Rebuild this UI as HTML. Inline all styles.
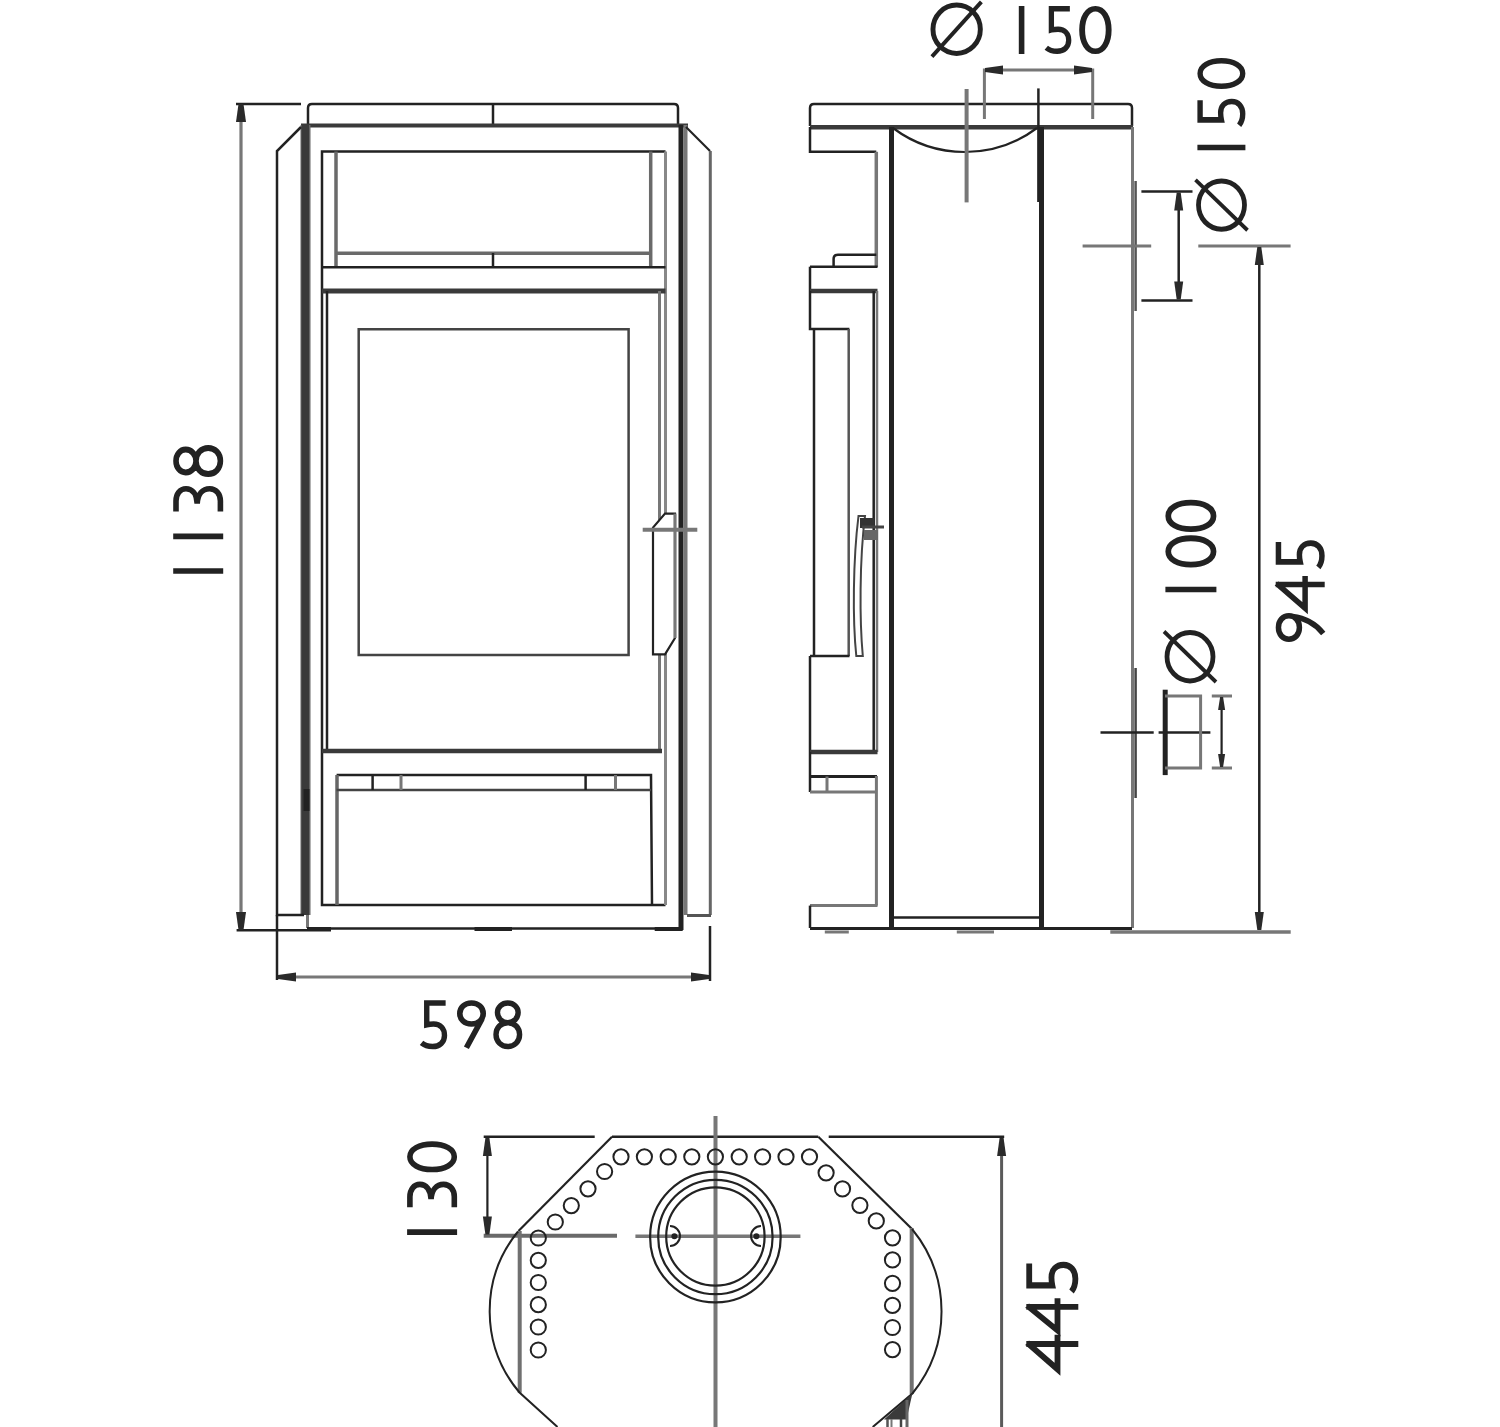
<!DOCTYPE html>
<html><head><meta charset="utf-8"><title>Stove dimensions</title>
<style>
html,body{margin:0;padding:0;background:#fff;}
body{width:1500px;height:1427px;overflow:hidden;font-family:"Liberation Sans",sans-serif;}
svg{display:block;}
</style></head>
<body>
<svg width="1500" height="1427" viewBox="0 0 1500 1427">
<rect width="1500" height="1427" fill="#fff"/>
<line x1="241" y1="106" x2="241" y2="927" stroke="#777" stroke-width="3.2" stroke-linecap="butt"/>
<line x1="236" y1="104" x2="301" y2="104" stroke="#222" stroke-width="2.5" stroke-linecap="butt"/>
<line x1="236.6" y1="930.3" x2="331" y2="930.3" stroke="#222" stroke-width="2.5" stroke-linecap="butt"/>
<polygon points="238.5,104 243.5,104 246.0,122 236.0,122" fill="#2a2a2a"/>
<polygon points="238.5,930 243.5,930 246.0,912 236.0,912" fill="#2a2a2a"/>
<path d="M308,125 V108 Q308,104 312,104 H674 Q678,104 678,108 V125" stroke="#222" stroke-width="2.5" fill="none" stroke-linejoin="miter"/>
<line x1="493" y1="104" x2="493" y2="125" stroke="#222" stroke-width="2.5" stroke-linecap="butt"/>
<line x1="301" y1="125.5" x2="688" y2="125.5" stroke="#3a3a3a" stroke-width="4" stroke-linecap="butt"/>
<rect x="300.5" y="125" width="10" height="790" fill="#666"/>
<rect x="301.5" y="125" width="7.5" height="790" fill="#3a3a3a"/>
<line x1="307.5" y1="915" x2="307.5" y2="928" stroke="#777" stroke-width="3" stroke-linecap="butt"/>
<rect x="303.5" y="789" width="6" height="22" fill="#222"/>
<rect x="678.5" y="125" width="5" height="805" fill="#222"/>
<rect x="683.5" y="125" width="4" height="790" fill="#777"/>
<path d="M301,127 L277,151 V915 H304" stroke="#222" stroke-width="2.5" fill="none" stroke-linejoin="miter"/>
<path d="M686,127 L710,151" stroke="#222" stroke-width="2.2" fill="none" stroke-linejoin="miter"/>
<line x1="710.3" y1="151" x2="710.3" y2="915" stroke="#666" stroke-width="3" stroke-linecap="butt"/>
<line x1="687" y1="915.5" x2="711" y2="915.5" stroke="#555" stroke-width="3" stroke-linecap="butt"/>
<path d="M665.5,151.5 H322 V905 H665.5" stroke="#222" stroke-width="2.5" fill="none" stroke-linejoin="miter"/>
<line x1="665.5" y1="151.5" x2="665.5" y2="905" stroke="#888" stroke-width="3" stroke-linecap="butt"/>
<line x1="336" y1="151.5" x2="336" y2="267" stroke="#6a6a6a" stroke-width="3.5" stroke-linecap="butt"/>
<line x1="650.7" y1="151.5" x2="650.7" y2="267" stroke="#6a6a6a" stroke-width="3.5" stroke-linecap="butt"/>
<line x1="336" y1="253.2" x2="650.7" y2="253.2" stroke="#6a6a6a" stroke-width="3.5" stroke-linecap="butt"/>
<line x1="322" y1="267.3" x2="665.5" y2="267.3" stroke="#222" stroke-width="2.5" stroke-linecap="butt"/>
<line x1="493" y1="253" x2="493" y2="267" stroke="#222" stroke-width="2.5" stroke-linecap="butt"/>
<line x1="322" y1="291" x2="665.5" y2="291" stroke="#3a3a3a" stroke-width="5" stroke-linecap="butt"/>
<line x1="327" y1="291" x2="327" y2="751" stroke="#222" stroke-width="2.5" stroke-linecap="butt"/>
<line x1="659.5" y1="291" x2="659.5" y2="751" stroke="#777" stroke-width="3" stroke-linecap="butt"/>
<line x1="322" y1="751" x2="662" y2="751" stroke="#3a3a3a" stroke-width="4.5" stroke-linecap="butt"/>
<path d="M358.7,655.1 V329.3 H628.6 V655.1 Z" stroke="#444" stroke-width="2.5" fill="none" stroke-linejoin="miter"/>
<path d="M665,513.6 H675 V638 L665,654.4 H653 V527.6 Z" fill="#fff" stroke="none"/>
<path d="M665,513.6 H675 V638 L665,654.4 H653 V527.6 Z" stroke="#222" stroke-width="2.2" fill="none" stroke-linejoin="miter"/>
<line x1="675" y1="513.6" x2="675" y2="638" stroke="#777" stroke-width="3" stroke-linecap="butt"/>
<line x1="642.7" y1="529.7" x2="697.3" y2="529.7" stroke="#777" stroke-width="4" stroke-linecap="butt"/>
<path d="M336.6,775 H651 L652,905" stroke="#222" stroke-width="2.5" fill="none" stroke-linejoin="miter"/>
<line x1="337" y1="775" x2="337" y2="905" stroke="#666" stroke-width="3.5" stroke-linecap="butt"/>
<line x1="336.6" y1="790" x2="651" y2="790" stroke="#444" stroke-width="2.5" stroke-linecap="butt"/>
<line x1="372.6" y1="775" x2="372.6" y2="790" stroke="#222" stroke-width="2.5" stroke-linecap="butt"/>
<line x1="401" y1="775" x2="401" y2="790" stroke="#777" stroke-width="3" stroke-linecap="butt"/>
<line x1="585.6" y1="775" x2="585.6" y2="790" stroke="#222" stroke-width="2.5" stroke-linecap="butt"/>
<line x1="615.5" y1="775" x2="615.5" y2="790" stroke="#777" stroke-width="3" stroke-linecap="butt"/>
<line x1="307" y1="928.5" x2="683" y2="928.5" stroke="#222" stroke-width="2.5" stroke-linecap="butt"/>
<rect x="307" y="927" width="24" height="4" fill="#222"/>
<rect x="474.5" y="927" width="37.5" height="4" fill="#222"/>
<rect x="654.7" y="927" width="28" height="4" fill="#222"/>
<line x1="278" y1="977" x2="709" y2="977" stroke="#777" stroke-width="3" stroke-linecap="butt"/>
<line x1="277" y1="915" x2="277" y2="980" stroke="#222" stroke-width="2.5" stroke-linecap="butt"/>
<line x1="710" y1="926" x2="710" y2="981" stroke="#222" stroke-width="2.5" stroke-linecap="butt"/>
<polygon points="278,975.0 278,979.0 296,981.5 296,972.5" fill="#2a2a2a"/>
<polygon points="709,975.0 709,979.0 691,981.5 691,972.5" fill="#2a2a2a"/>
<path transform="translate(173.2,574.5) rotate(-90) scale(1.0,1.0)" d="M3.5,0 V50" stroke="#222" stroke-width="5.6" fill="none" stroke-linecap="butt"/>
<path transform="translate(173.2,539.9) rotate(-90) scale(1.0,1.0)" d="M3.5,0 V50" stroke="#222" stroke-width="5.6" fill="none" stroke-linecap="butt"/>
<path transform="translate(173.2,512.5) rotate(-90) scale(1.0,1.0)" d="M1,2.8 H11.5 C18.5,2.8 23.8,6.8 23.8,12.8 C23.8,19 18.5,23.5 9,24 C18.5,24.5 23.8,29.5 23.8,36.5 C23.8,43 18.5,47.2 11.5,47.2 H1" stroke="#222" stroke-width="5.6" fill="none" stroke-linecap="butt"/>
<path transform="translate(173.2,477.0) rotate(-90) scale(1.0666666666666667,1.0)" d="M15,2.8 C9,2.8 4.3,6.8 4.3,12.5 C4.3,18.2 9,22.8 15,22.8 C21,22.8 25.7,18.2 25.7,12.5 C25.7,6.8 21,2.8 15,2.8 Z M15,22.8 C8,22.8 2.8,28 2.8,35 C2.8,42 8,47.2 15,47.2 C22,47.2 27.2,42 27.2,35 C27.2,28 22,22.8 15,22.8 Z" stroke="#222" stroke-width="5.6" fill="none" stroke-linecap="butt"/>
<path transform="translate(419.6,1000.3) scale(0.9642857142857143,0.98)" d="M27,2.8 H7.4 V25 C10,24.4 12.5,24.2 14.5,24.2 C21.5,24.2 25.8,29 25.8,35.8 C25.8,42.5 21,47.2 13.5,47.2 C9,47.2 5,46 2,43.5" stroke="#222" stroke-width="5.6" fill="none" stroke-linecap="butt"/>
<path transform="translate(457.0,1000.3) scale(1.0,0.98)" d="M14.5,2.8 C7.5,2.8 2.8,7.5 2.8,13.5 C2.8,19.5 7.5,24.2 14.5,24.2 C21.5,24.2 26.2,19.5 26.2,13.5 C26.2,7.5 21.5,2.8 14.5,2.8 Z M25,19 L9.4,48.5" stroke="#222" stroke-width="5.6" fill="none" stroke-linecap="butt"/>
<path transform="translate(493.3,1000.3) scale(0.9666666666666667,0.98)" d="M15,2.8 C9,2.8 4.3,6.8 4.3,12.5 C4.3,18.2 9,22.8 15,22.8 C21,22.8 25.7,18.2 25.7,12.5 C25.7,6.8 21,2.8 15,2.8 Z M15,22.8 C8,22.8 2.8,28 2.8,35 C2.8,42 8,47.2 15,47.2 C22,47.2 27.2,42 27.2,35 C27.2,28 22,22.8 15,22.8 Z" stroke="#222" stroke-width="5.6" fill="none" stroke-linecap="butt"/>
<path d="M810,126 V108 Q810,104 814,104 H1128 Q1132,104 1132,108 V126" stroke="#222" stroke-width="2.5" fill="none" stroke-linejoin="miter"/>
<line x1="810" y1="127.3" x2="1133" y2="127.3" stroke="#3a3a3a" stroke-width="4.5" stroke-linecap="butt"/>
<path d="M810,127 V151.8 H876.3" stroke="#222" stroke-width="2.5" fill="none" stroke-linejoin="miter"/>
<line x1="876.3" y1="151.8" x2="876.3" y2="267" stroke="#777" stroke-width="3.5" stroke-linecap="butt"/>
<path d="M876.3,254.8 H838 Q833.6,254.8 833.6,259 V266.7" stroke="#222" stroke-width="2.5" fill="none" stroke-linejoin="miter"/>
<line x1="810" y1="266.7" x2="877.5" y2="266.7" stroke="#222" stroke-width="2.5" stroke-linecap="butt"/>
<line x1="810" y1="266.7" x2="810" y2="291" stroke="#222" stroke-width="2.5" stroke-linecap="butt"/>
<line x1="810" y1="291" x2="877.5" y2="291" stroke="#3a3a3a" stroke-width="4.5" stroke-linecap="butt"/>
<path d="M810,291 V329 H849.4" stroke="#222" stroke-width="2.5" fill="none" stroke-linejoin="miter"/>
<line x1="814" y1="329" x2="814" y2="656" stroke="#222" stroke-width="2.5" stroke-linecap="butt"/>
<line x1="848.7" y1="329" x2="848.7" y2="656" stroke="#555" stroke-width="2.5" stroke-linecap="butt"/>
<line x1="810" y1="656" x2="849.5" y2="656" stroke="#222" stroke-width="2.5" stroke-linecap="butt"/>
<line x1="810" y1="656" x2="810" y2="752" stroke="#222" stroke-width="2.5" stroke-linecap="butt"/>
<line x1="873.7" y1="291" x2="873.7" y2="752" stroke="#222" stroke-width="2.5" stroke-linecap="butt"/>
<line x1="877" y1="291" x2="877" y2="752" stroke="#777" stroke-width="2.5" stroke-linecap="butt"/>
<line x1="810" y1="752" x2="877.5" y2="752" stroke="#3a3a3a" stroke-width="4.5" stroke-linecap="butt"/>
<line x1="810" y1="752" x2="810" y2="792" stroke="#222" stroke-width="2.5" stroke-linecap="butt"/>
<line x1="810" y1="776.5" x2="877" y2="776.5" stroke="#222" stroke-width="3" stroke-linecap="butt"/>
<line x1="810" y1="792" x2="877" y2="792" stroke="#777" stroke-width="3" stroke-linecap="butt"/>
<line x1="827" y1="776.5" x2="827" y2="792" stroke="#777" stroke-width="3" stroke-linecap="butt"/>
<line x1="876.4" y1="776" x2="876.4" y2="905.6" stroke="#777" stroke-width="3" stroke-linecap="butt"/>
<line x1="810" y1="905.6" x2="877.5" y2="905.6" stroke="#777" stroke-width="3" stroke-linecap="butt"/>
<line x1="810" y1="905.6" x2="810" y2="928" stroke="#222" stroke-width="2.5" stroke-linecap="butt"/>
<path d="M858.5,516 C853,560 852.5,620 856.3,656 H862.8 C859.5,620 859.5,560 865,516 Z" stroke="#444" stroke-width="2" fill="none" stroke-linejoin="miter"/>
<rect x="860" y="518" width="14" height="10" fill="#333"/>
<line x1="862" y1="527" x2="884" y2="527" stroke="#444" stroke-width="3" stroke-linecap="butt"/>
<rect x="864" y="530" width="14" height="10" fill="#666"/>
<rect x="889" y="127" width="5" height="801" fill="#222"/>
<rect x="1039" y="127" width="5" height="801" fill="#222"/>
<line x1="1132.5" y1="127" x2="1132.5" y2="928" stroke="#777" stroke-width="3" stroke-linecap="butt"/>
<line x1="1135.6" y1="181" x2="1135.6" y2="311" stroke="#555" stroke-width="2.5" stroke-linecap="butt"/>
<line x1="1135.6" y1="668" x2="1135.6" y2="798" stroke="#444" stroke-width="2.5" stroke-linecap="butt"/>
<path d="M893,128 A120,120 0 0 0 1037,128" stroke="#222" stroke-width="2.2" fill="none" stroke-linejoin="miter"/>
<line x1="966.6" y1="89" x2="966.6" y2="202.4" stroke="#777" stroke-width="4" stroke-linecap="butt"/>
<line x1="1038.4" y1="88.4" x2="1038.4" y2="202" stroke="#222" stroke-width="2.5" stroke-linecap="butt"/>
<line x1="893" y1="917.6" x2="1042" y2="917.6" stroke="#222" stroke-width="2.5" stroke-linecap="butt"/>
<line x1="810" y1="928.5" x2="1132" y2="928.5" stroke="#222" stroke-width="3" stroke-linecap="butt"/>
<line x1="824.8" y1="932" x2="848.8" y2="932" stroke="#777" stroke-width="3" stroke-linecap="butt"/>
<line x1="956.8" y1="932" x2="994" y2="932" stroke="#777" stroke-width="3" stroke-linecap="butt"/>
<line x1="1110.3" y1="932" x2="1290.7" y2="932" stroke="#777" stroke-width="3.5" stroke-linecap="butt"/>
<line x1="984.4" y1="68.5" x2="984.4" y2="119" stroke="#777" stroke-width="3" stroke-linecap="butt"/>
<line x1="1092.7" y1="68.5" x2="1092.7" y2="119" stroke="#777" stroke-width="3" stroke-linecap="butt"/>
<line x1="985" y1="70" x2="1092" y2="70" stroke="#777" stroke-width="3" stroke-linecap="butt"/>
<polygon points="985,68.0 985,72.0 1003,74.5 1003,65.5" fill="#2a2a2a"/>
<polygon points="1092,68.0 1092,72.0 1074,74.5 1074,65.5" fill="#2a2a2a"/>
<g transform="translate(930.9,3.0) scale(1.03,1.05)" fill="none" stroke="#222"><ellipse cx="25" cy="25" rx="23" ry="23" stroke-width="4.8"/><path d="M1,51 L49,-1" stroke-width="3.8"/></g>
<path transform="translate(1018.1,6) scale(1.0,0.96)" d="M3.5,0 V50" stroke="#222" stroke-width="5.6" fill="none" stroke-linecap="butt"/>
<path transform="translate(1044.4,6) scale(0.9428571428571428,0.96)" d="M27,2.8 H7.4 V25 C10,24.4 12.5,24.2 14.5,24.2 C21.5,24.2 25.8,29 25.8,35.8 C25.8,42.5 21,47.2 13.5,47.2 C9,47.2 5,46 2,43.5" stroke="#222" stroke-width="5.6" fill="none" stroke-linecap="butt"/>
<path transform="translate(1079.2,6) scale(1.0451612903225806,0.96)" d="M15.5,2.8 C8,2.8 2.8,12 2.8,25 C2.8,38 8,47.2 15.5,47.2 C23,47.2 28.2,38 28.2,25 C28.2,12 23,2.8 15.5,2.8 Z" stroke="#222" stroke-width="5.6" fill="none" stroke-linecap="butt"/>
<line x1="1082.6" y1="246" x2="1151.2" y2="246" stroke="#777" stroke-width="3" stroke-linecap="butt"/>
<line x1="1198.3" y1="246" x2="1290.6" y2="246" stroke="#777" stroke-width="3" stroke-linecap="butt"/>
<line x1="1141.4" y1="191.5" x2="1192.5" y2="191.5" stroke="#222" stroke-width="2.5" stroke-linecap="butt"/>
<line x1="1141.4" y1="300.6" x2="1192.5" y2="300.6" stroke="#222" stroke-width="2.5" stroke-linecap="butt"/>
<line x1="1178.7" y1="193" x2="1178.7" y2="299" stroke="#222" stroke-width="2.5" stroke-linecap="butt"/>
<polygon points="1176.7,192.5 1180.7,192.5 1183.2,210.5 1174.2,210.5" fill="#2a2a2a"/>
<polygon points="1176.7,299.5 1180.7,299.5 1183.2,281.5 1174.2,281.5" fill="#2a2a2a"/>
<g transform="translate(1196.5,231.3) rotate(-90) scale(1.05,1.0)" fill="none" stroke="#222"><ellipse cx="25" cy="25" rx="23" ry="23" stroke-width="4.8"/><path d="M1,51 L49,-1" stroke-width="3.8"/></g>
<path transform="translate(1197.4,151.0) rotate(-90) scale(1.0,0.96)" d="M3.5,0 V50" stroke="#222" stroke-width="5.6" fill="none" stroke-linecap="butt"/>
<path transform="translate(1197.4,127.3) rotate(-90) scale(1.0,0.96)" d="M27,2.8 H7.4 V25 C10,24.4 12.5,24.2 14.5,24.2 C21.5,24.2 25.8,29 25.8,35.8 C25.8,42.5 21,47.2 13.5,47.2 C9,47.2 5,46 2,43.5" stroke="#222" stroke-width="5.6" fill="none" stroke-linecap="butt"/>
<path transform="translate(1197.4,89.0) rotate(-90) scale(1.0,0.96)" d="M15.5,2.8 C8,2.8 2.8,12 2.8,25 C2.8,38 8,47.2 15.5,47.2 C23,47.2 28.2,38 28.2,25 C28.2,12 23,2.8 15.5,2.8 Z" stroke="#222" stroke-width="5.6" fill="none" stroke-linecap="butt"/>
<line x1="1259.3" y1="248" x2="1259.3" y2="928" stroke="#222" stroke-width="2.5" stroke-linecap="butt"/>
<polygon points="1257.3,247 1261.3,247 1263.8,265 1254.8,265" fill="#2a2a2a"/>
<polygon points="1257.3,930 1261.3,930 1263.8,912 1254.8,912" fill="#2a2a2a"/>
<path transform="translate(1275.7,569.4) rotate(-90) scale(1.0178571428571428,0.98)" d="M27,2.8 H7.4 V25 C10,24.4 12.5,24.2 14.5,24.2 C21.5,24.2 25.8,29 25.8,35.8 C25.8,42.5 21,47.2 13.5,47.2 C9,47.2 5,46 2,43.5" stroke="#222" stroke-width="5.6" fill="none" stroke-linecap="butt"/>
<path transform="translate(1275.7,610.3) rotate(-90) scale(1.0,0.98)" d="M25.8,0 V50 M27,0.8 L2.2,30 H34.4" stroke="#222" stroke-width="5.6" fill="none" stroke-linecap="butt"/>
<path transform="translate(1275.7,642.0) rotate(-90) scale(1.0,0.98)" d="M14.5,2.8 C7.5,2.8 2.8,7.5 2.8,13.5 C2.8,19.5 7.5,24.2 14.5,24.2 C21.5,24.2 26.2,19.5 26.2,13.5 C26.2,7.5 21.5,2.8 14.5,2.8 Z M25.5,17 C24,30 18,41 8.5,48.5" stroke="#222" stroke-width="5.6" fill="none" stroke-linecap="butt"/>
<line x1="1100.5" y1="732.4" x2="1153.7" y2="732.4" stroke="#222" stroke-width="2.5" stroke-linecap="butt"/>
<line x1="1158.6" y1="732.4" x2="1210.4" y2="732.4" stroke="#222" stroke-width="2.5" stroke-linecap="butt"/>
<line x1="1165.2" y1="689.7" x2="1165.2" y2="775.1" stroke="#222" stroke-width="5" stroke-linecap="butt"/>
<path d="M1165,696 H1200.6 V768 H1165" stroke="#777" stroke-width="3" fill="none" stroke-linejoin="miter"/>
<line x1="1211.8" y1="696" x2="1232" y2="696" stroke="#777" stroke-width="3" stroke-linecap="butt"/>
<line x1="1211.8" y1="768" x2="1232" y2="768" stroke="#777" stroke-width="3" stroke-linecap="butt"/>
<line x1="1221.6" y1="697" x2="1221.6" y2="767" stroke="#222" stroke-width="2.2" stroke-linecap="butt"/>
<polygon points="1220.1,697 1223.1,697 1225.1,710 1218.1,710" fill="#2a2a2a"/>
<polygon points="1220.1,767 1223.1,767 1225.1,754 1218.1,754" fill="#2a2a2a"/>
<g transform="translate(1165.0,683.0) rotate(-90) scale(1.05,1.0)" fill="none" stroke="#222"><ellipse cx="25" cy="25" rx="23" ry="23" stroke-width="4.8"/><path d="M1,51 L49,-1" stroke-width="3.8"/></g>
<path transform="translate(1165.4,593.0) rotate(-90) scale(1.0,1.02)" d="M3.5,0 V50" stroke="#222" stroke-width="5.6" fill="none" stroke-linecap="butt"/>
<path transform="translate(1165.4,567.6) rotate(-90) scale(1.04,1.02)" d="M15.5,2.8 C8,2.8 2.8,12 2.8,25 C2.8,38 8,47.2 15.5,47.2 C23,47.2 28.2,38 28.2,25 C28.2,12 23,2.8 15.5,2.8 Z" stroke="#222" stroke-width="5.6" fill="none" stroke-linecap="butt"/>
<path transform="translate(1165.4,532.0) rotate(-90) scale(1.04,1.02)" d="M15.5,2.8 C8,2.8 2.8,12 2.8,25 C2.8,38 8,47.2 15.5,47.2 C23,47.2 28.2,38 28.2,25 C28.2,12 23,2.8 15.5,2.8 Z" stroke="#222" stroke-width="5.6" fill="none" stroke-linecap="butt"/>
<line x1="483.7" y1="1136.7" x2="594.7" y2="1136.7" stroke="#222" stroke-width="2.5" stroke-linecap="butt"/>
<line x1="612" y1="1136.7" x2="818.3" y2="1136.7" stroke="#222" stroke-width="2.5" stroke-linecap="butt"/>
<line x1="828.7" y1="1136.7" x2="1004.2" y2="1136.7" stroke="#222" stroke-width="2.5" stroke-linecap="butt"/>
<line x1="612" y1="1136.7" x2="518.5" y2="1231" stroke="#222" stroke-width="2.2" stroke-linecap="butt"/>
<line x1="818.3" y1="1136.7" x2="912" y2="1229" stroke="#222" stroke-width="2.2" stroke-linecap="butt"/>
<line x1="483.7" y1="1235.7" x2="617" y2="1235.7" stroke="#6a6a6a" stroke-width="4" stroke-linecap="butt"/>
<line x1="635.4" y1="1236.2" x2="800.4" y2="1236.2" stroke="#777" stroke-width="3.5" stroke-linecap="butt"/>
<line x1="715.5" y1="1116" x2="715.5" y2="1427" stroke="#777" stroke-width="4" stroke-linecap="butt"/>
<line x1="487.4" y1="1139" x2="487.4" y2="1234" stroke="#222" stroke-width="2.2" stroke-linecap="butt"/>
<polygon points="485.4,1138 489.4,1138 491.9,1156 482.9,1156" fill="#2a2a2a"/>
<polygon points="485.4,1234.5 489.4,1234.5 491.9,1216.5 482.9,1216.5" fill="#2a2a2a"/>
<line x1="1001.6" y1="1139" x2="1001.6" y2="1427" stroke="#5a5a5a" stroke-width="3" stroke-linecap="butt"/>
<polygon points="999.6,1138 1003.6,1138 1006.1,1156 997.1,1156" fill="#2a2a2a"/>
<line x1="519.7" y1="1231" x2="519.7" y2="1392.7" stroke="#707070" stroke-width="4" stroke-linecap="butt"/>
<line x1="911.7" y1="1228" x2="911.7" y2="1394" stroke="#707070" stroke-width="4" stroke-linecap="butt"/>
<path d="M518,1231.5 A126,126 0 0 0 519.5,1392.5 L557.5,1427" stroke="#222" stroke-width="2" fill="none" stroke-linejoin="miter"/>
<path d="M912,1229 A130,130 0 0 1 912.4,1393.5 L872.7,1427" stroke="#222" stroke-width="2" fill="none" stroke-linejoin="miter"/>
<circle cx="621" cy="1156.8" r="7.6" stroke="#222" stroke-width="2" fill="none"/>
<circle cx="644.4" cy="1156.8" r="7.6" stroke="#222" stroke-width="2" fill="none"/>
<circle cx="668.2" cy="1156.8" r="7.6" stroke="#222" stroke-width="2" fill="none"/>
<circle cx="691.8" cy="1156.8" r="7.6" stroke="#222" stroke-width="2" fill="none"/>
<circle cx="715.4" cy="1156.8" r="7.6" stroke="#222" stroke-width="2" fill="none"/>
<circle cx="739.2" cy="1156.8" r="7.6" stroke="#222" stroke-width="2" fill="none"/>
<circle cx="762.6" cy="1156.8" r="7.6" stroke="#222" stroke-width="2" fill="none"/>
<circle cx="786" cy="1156.8" r="7.6" stroke="#222" stroke-width="2" fill="none"/>
<circle cx="809.5" cy="1156.8" r="7.6" stroke="#222" stroke-width="2" fill="none"/>
<circle cx="604.6" cy="1171.5" r="7.6" stroke="#222" stroke-width="2" fill="none"/>
<circle cx="588" cy="1188.8" r="7.6" stroke="#222" stroke-width="2" fill="none"/>
<circle cx="571.3" cy="1205.6" r="7.6" stroke="#222" stroke-width="2" fill="none"/>
<circle cx="555.3" cy="1222" r="7.6" stroke="#222" stroke-width="2" fill="none"/>
<circle cx="826.1" cy="1172.8" r="7.6" stroke="#222" stroke-width="2" fill="none"/>
<circle cx="842.5" cy="1188.9" r="7.6" stroke="#222" stroke-width="2" fill="none"/>
<circle cx="859.9" cy="1205.3" r="7.6" stroke="#222" stroke-width="2" fill="none"/>
<circle cx="876.3" cy="1220.9" r="7.6" stroke="#222" stroke-width="2" fill="none"/>
<circle cx="538.3" cy="1238" r="7.6" stroke="#222" stroke-width="2" fill="none"/>
<circle cx="538.3" cy="1260.3" r="7.6" stroke="#222" stroke-width="2" fill="none"/>
<circle cx="538.3" cy="1282.5" r="7.6" stroke="#222" stroke-width="2" fill="none"/>
<circle cx="538.3" cy="1304.7" r="7.6" stroke="#222" stroke-width="2" fill="none"/>
<circle cx="538.3" cy="1327" r="7.6" stroke="#222" stroke-width="2" fill="none"/>
<circle cx="538.3" cy="1350" r="7.6" stroke="#222" stroke-width="2" fill="none"/>
<circle cx="892.5" cy="1237.8" r="7.6" stroke="#222" stroke-width="2" fill="none"/>
<circle cx="892.5" cy="1259.9" r="7.6" stroke="#222" stroke-width="2" fill="none"/>
<circle cx="892.5" cy="1283.3" r="7.6" stroke="#222" stroke-width="2" fill="none"/>
<circle cx="892.5" cy="1305.4" r="7.6" stroke="#222" stroke-width="2" fill="none"/>
<circle cx="892.5" cy="1327.5" r="7.6" stroke="#222" stroke-width="2" fill="none"/>
<circle cx="892.5" cy="1349.6" r="7.6" stroke="#222" stroke-width="2" fill="none"/>
<circle cx="715.4" cy="1237" r="65.3" stroke="#222" stroke-width="2.2" fill="none"/>
<circle cx="715.4" cy="1237" r="57.2" stroke="#222" stroke-width="2.2" fill="none"/>
<circle cx="715.4" cy="1236.5" r="49.2" stroke="#222" stroke-width="2.2" fill="none"/>
<path d="M670,1226 A10,10 0 0 1 670,1246" stroke="#222" stroke-width="2" fill="none" stroke-linejoin="miter"/>
<path d="M761,1226 A10,10 0 0 0 761,1246" stroke="#222" stroke-width="2" fill="none" stroke-linejoin="miter"/>
<circle cx="674.4" cy="1236.2" r="3" stroke="#222" stroke-width="0" fill="#222"/>
<circle cx="756.4" cy="1236.2" r="3" stroke="#222" stroke-width="0" fill="#222"/>
<polygon points="912.4,1393.5 884,1419.5 906.5,1419.5" fill="#3a3a3a"/>
<line x1="907" y1="1400" x2="907" y2="1427" stroke="#666" stroke-width="3" stroke-linecap="butt"/>
<line x1="887.5" y1="1419" x2="887.5" y2="1427" stroke="#555" stroke-width="2.5" stroke-linecap="butt"/>
<line x1="891.5" y1="1419" x2="891.5" y2="1427" stroke="#777" stroke-width="2" stroke-linecap="butt"/>
<line x1="901" y1="1419" x2="901" y2="1427" stroke="#444" stroke-width="2.5" stroke-linecap="butt"/>
<path transform="translate(407.1,1235.6) rotate(-90) scale(1.0,1.0)" d="M3.5,0 V50" stroke="#222" stroke-width="5.6" fill="none" stroke-linecap="butt"/>
<path transform="translate(407.1,1208.2) rotate(-90) scale(1.0,1.0)" d="M1,2.8 H11.5 C18.5,2.8 23.8,6.8 23.8,12.8 C23.8,19 18.5,23.5 9,24 C18.5,24.5 23.8,29.5 23.8,36.5 C23.8,43 18.5,47.2 11.5,47.2 H1" stroke="#222" stroke-width="5.6" fill="none" stroke-linecap="butt"/>
<path transform="translate(407.1,1172.3) rotate(-90) scale(1.0,1.0)" d="M15.5,2.8 C8,2.8 2.8,12 2.8,25 C2.8,38 8,47.2 15.5,47.2 C23,47.2 28.2,38 28.2,25 C28.2,12 23,2.8 15.5,2.8 Z" stroke="#222" stroke-width="5.6" fill="none" stroke-linecap="butt"/>
<path transform="translate(1026.3,1293.7) rotate(-90) scale(1.1142857142857143,1.04)" d="M27,2.8 H7.4 V25 C10,24.4 12.5,24.2 14.5,24.2 C21.5,24.2 25.8,29 25.8,35.8 C25.8,42.5 21,47.2 13.5,47.2 C9,47.2 5,46 2,43.5" stroke="#222" stroke-width="5.6" fill="none" stroke-linecap="butt"/>
<path transform="translate(1026.3,1332.7) rotate(-90) scale(1.0,1.04)" d="M25.8,0 V50 M27,0.8 L2.2,30 H34.4" stroke="#222" stroke-width="5.6" fill="none" stroke-linecap="butt"/>
<path transform="translate(1026.3,1371.7) rotate(-90) scale(1.0705882352941176,1.04)" d="M25.8,0 V50 M27,0.8 L2.2,30 H34.4" stroke="#222" stroke-width="5.6" fill="none" stroke-linecap="butt"/>
</svg>
</body></html>
